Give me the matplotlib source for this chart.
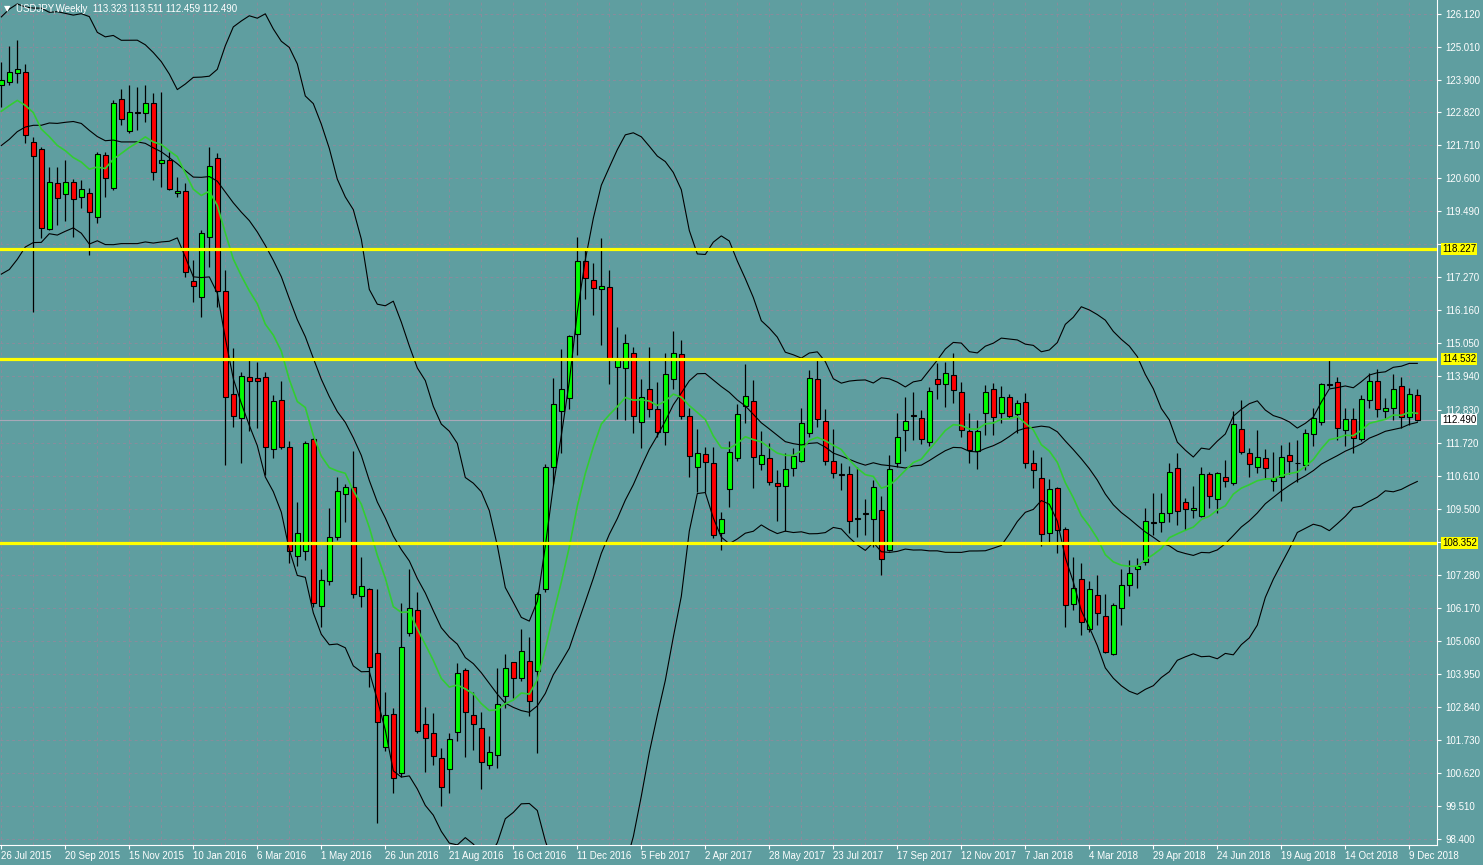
import matplotlib.pyplot as plt
import numpy as np
import pandas as pd
from matplotlib.transforms import blended_transform_factory, ScaledTranslation

# weekly USDJPY candles, 26 Jul 2015 .. 16 Dec 2018
opens = [123.73, 123.84, 124.14, 124.17, 121.82, 121.58, 118.90, 120.44, 120.07, 120.47,
         119.97, 120.10, 119.30, 121.38, 120.27, 123.26, 122.19, 122.83, 122.80, 123.13,
         121.11, 121.21, 120.10, 120.17, 117.15, 116.61, 118.63, 121.28, 116.81, 113.35,
         112.54, 113.92, 113.89, 113.92, 111.50, 113.15, 111.57, 107.91, 108.08, 111.84,
         106.23, 107.07, 108.55, 109.99, 110.21, 106.56, 106.80, 104.65, 101.49, 102.60,
         100.62, 105.32, 106.09, 102.26, 101.96, 101.12, 100.75, 101.99, 104.08, 102.56,
         102.13, 100.88, 101.22, 103.20, 104.34, 103.81, 104.38, 104.04, 106.80, 110.90,
         112.77, 113.21, 115.37, 117.82, 117.18, 116.87, 116.95, 114.26, 114.23, 114.73,
         112.41, 113.52, 112.85, 112.07, 113.86, 114.70, 112.61, 110.90, 111.34, 111.03,
         108.68, 110.16, 111.20, 112.95, 113.12, 111.00, 111.20, 110.36, 110.26, 110.87,
         111.10, 112.04, 113.86, 112.44, 111.10, 110.66, 110.66, 109.18, 109.32, 109.15,
         109.45, 108.11, 111.03, 112.14, 112.64, 112.54, 111.74, 113.86, 113.69, 113.99,
         113.42, 112.11, 111.44, 112.71, 113.52, 112.71, 113.25, 112.68, 113.08, 111.03,
         110.53, 108.68, 110.19, 108.82, 106.29, 107.13, 105.46, 106.60, 105.89, 104.61,
         106.16, 106.93, 107.47, 107.71, 109.05, 109.05, 109.35, 110.86, 109.72, 109.45,
         109.25, 110.66, 109.82, 110.56, 110.36, 112.17, 111.37, 110.90, 111.20, 110.43,
         110.56, 111.30, 111.03, 110.97, 112.01, 112.41, 113.69, 113.76, 112.14, 112.51,
         111.84, 113.15, 113.79, 112.78, 112.88, 113.62, 112.58, 113.323]
highs = [124.51, 125.05, 125.25, 124.45, 121.99, 121.65, 120.98, 120.98, 121.21, 120.57,
         120.54, 120.27, 121.48, 121.48, 123.23, 123.60, 123.73, 123.67, 123.73, 123.47,
         123.50, 121.48, 120.64, 120.44, 117.85, 118.86, 121.65, 121.45, 117.52, 114.90,
         114.10, 114.53, 114.43, 114.09, 113.32, 113.79, 111.77, 109.72, 111.77, 111.87,
         107.47, 109.52, 110.56, 110.34, 111.44, 107.87, 106.83, 106.80, 103.34, 102.80,
         106.33, 107.47, 106.70, 102.83, 102.63, 101.46, 101.96, 104.31, 104.14, 103.34,
         102.66, 101.86, 104.14, 104.61, 104.34, 105.46, 105.19, 106.70, 111.00, 113.89,
         114.86, 115.33, 118.63, 118.22, 117.75, 118.59, 117.52, 115.60, 115.37, 114.93,
         113.86, 114.93, 113.76, 114.73, 115.47, 115.17, 112.88, 112.17, 111.57, 111.57,
         109.39, 111.77, 113.02, 114.36, 113.82, 112.11, 111.70, 110.80, 111.37, 111.54,
         112.88, 114.16, 114.49, 112.85, 112.17, 111.03, 110.93, 110.90, 109.82, 110.46,
         109.92, 111.30, 112.71, 113.25, 113.42, 112.81, 113.59, 114.39, 114.43, 114.73,
         113.76, 112.71, 112.48, 113.66, 113.72, 113.62, 113.35, 113.15, 113.39, 111.47,
         111.24, 110.50, 110.23, 108.88, 107.87, 107.67, 107.07, 107.27, 106.63, 106.33,
         107.47, 107.77, 107.84, 109.52, 110.03, 110.03, 111.03, 111.37, 109.86, 110.26,
         110.90, 110.73, 110.73, 111.13, 112.78, 113.15, 111.54, 112.14, 111.50, 111.40,
         111.64, 111.74, 111.80, 112.17, 112.88, 113.72, 114.53, 113.92, 112.88, 112.88,
         113.32, 114.06, 114.19, 113.22, 114.02, 113.92, 113.55, 113.511]
lows = [122.99, 123.74, 123.80, 121.79, 116.11, 118.59, 118.85, 119.03, 119.16, 118.63,
        119.60, 118.02, 119.10, 119.97, 120.21, 122.39, 122.12, 122.22, 122.49, 120.54,
        120.31, 120.21, 119.97, 117.28, 116.44, 115.94, 117.62, 116.27, 110.97, 112.24,
        111.03, 112.11, 112.21, 110.63, 111.20, 111.50, 107.67, 107.57, 107.77, 106.19,
        105.52, 106.95, 108.45, 109.05, 106.50, 106.19, 103.51, 98.94, 101.36, 99.94,
        100.48, 105.22, 101.95, 100.65, 100.89, 99.51, 99.94, 101.69, 101.15, 101.39,
        100.08, 100.74, 100.79, 102.80, 103.13, 103.71, 102.53, 101.29, 106.70, 110.33,
        111.37, 112.85, 114.66, 116.54, 116.01, 114.99, 113.69, 112.51, 112.48, 112.04,
        111.54, 112.58, 111.91, 111.64, 113.52, 112.51, 110.56, 110.06, 110.06, 108.51,
        108.11, 109.55, 111.10, 112.38, 110.19, 110.80, 110.29, 109.08, 108.75, 110.60,
        111.07, 111.91, 112.24, 110.97, 110.53, 110.12, 108.68, 108.55, 108.62, 108.21,
        107.27, 108.08, 110.90, 111.44, 111.80, 111.67, 111.60, 113.18, 112.91, 113.05,
        111.91, 111.03, 110.83, 111.98, 111.98, 112.38, 112.54, 112.04, 110.86, 110.19,
        108.24, 108.38, 108.01, 105.52, 106.09, 105.25, 105.36, 105.59, 104.65, 104.58,
        105.59, 106.56, 106.83, 107.61, 108.61, 108.72, 109.05, 108.95, 108.78, 109.18,
        109.22, 109.52, 109.35, 110.23, 110.29, 111.33, 110.56, 110.70, 110.49, 110.09,
        109.76, 110.66, 110.40, 110.80, 111.60, 112.30, 113.55, 111.81, 111.60, 111.37,
        111.77, 112.88, 112.58, 112.54, 112.48, 112.21, 112.31, 112.459]
closes = [123.90, 124.17, 124.27, 122.05, 121.35, 118.93, 120.47, 119.94, 120.47, 119.90,
          120.24, 119.47, 121.42, 120.61, 123.13, 122.59, 122.83, 122.80, 123.13, 120.81,
          121.21, 120.24, 120.17, 117.45, 116.98, 118.76, 121.01, 116.81, 113.25, 112.61,
          113.96, 113.79, 113.79, 111.57, 113.12, 111.57, 108.08, 108.68, 111.70, 106.33,
          107.10, 108.55, 110.09, 110.21, 106.63, 106.90, 104.18, 102.33, 102.56, 100.45,
          104.85, 106.16, 102.02, 101.79, 101.19, 100.15, 101.76, 103.98, 102.67, 102.26,
          100.99, 101.32, 102.93, 104.14, 103.81, 104.72, 103.04, 106.64, 110.90, 113.02,
          113.52, 115.30, 117.82, 117.25, 116.91, 116.97, 114.53, 114.56, 115.07, 112.61,
          113.25, 112.85, 112.07, 114.02, 114.73, 112.61, 111.27, 111.37, 111.07, 108.62,
          109.15, 111.40, 112.68, 113.28, 111.23, 111.30, 110.39, 110.26, 110.83, 111.27,
          112.38, 113.89, 112.51, 111.10, 110.70, 110.63, 109.08, 109.15, 109.35, 110.23,
          107.81, 110.83, 111.91, 112.44, 112.61, 111.84, 113.45, 113.69, 114.06, 113.49,
          112.14, 111.47, 112.11, 113.42, 112.58, 113.25, 112.61, 113.05, 111.03, 110.80,
          108.65, 110.16, 108.78, 106.26, 106.83, 105.69, 106.80, 105.99, 104.68, 106.26,
          106.93, 107.34, 107.57, 109.08, 109.02, 109.35, 110.73, 109.42, 109.49, 109.52,
          110.66, 109.92, 110.70, 110.43, 112.34, 111.40, 111.00, 111.23, 110.87, 110.53,
          111.23, 111.10, 111.03, 112.04, 112.54, 113.69, 113.66, 112.21, 112.51, 111.87,
          113.18, 113.79, 112.85, 112.88, 113.52, 112.58, 113.35, 112.490]

# closes of the 19 weeks before the first bar (needed for the 20-week bands)
warmup_closes = [120.00, 119.10, 118.95, 120.20, 118.90, 118.95, 120.20, 119.75, 119.35, 121.55,
                 124.10, 125.60, 123.40, 122.70, 123.85, 122.80, 122.80, 124.10, 123.80]

date_labels = ["26 Jul 2015", "20 Sep 2015", "15 Nov 2015", "10 Jan 2016", "6 Mar 2016",
               "1 May 2016", "26 Jun 2016", "21 Aug 2016", "16 Oct 2016", "11 Dec 2016",
               "5 Feb 2017", "2 Apr 2017", "28 May 2017", "23 Jul 2017", "17 Sep 2017",
               "12 Nov 2017", "7 Jan 2018", "4 Mar 2018", "29 Apr 2018", "24 Jun 2018",
               "19 Aug 2018", "14 Oct 2018", "9 Dec 2018"]
price_labels = ["98.400", "99.510", "100.620", "101.730", "102.840", "103.950", "105.060",
                "106.170", "107.280", "108.390", "109.500", "110.610", "111.720", "112.830",
                "113.940", "115.050", "116.160", "117.270", "118.380", "119.490", "120.600",
                "121.710", "122.820", "123.900", "125.010", "126.120"]
hidden_labels = ["108.390", "118.380"]
levels = [118.227, 114.532, 108.352]
last_price = 112.490
title = "USDJPY,Weekly  113.323 113.511 112.459 112.490"

bg = "#5F9EA0"
plt.rcParams["font.family"] = ["Liberation Sans", "DejaVu Sans"]

fig = plt.figure(figsize=(14.83, 8.65), dpi=100, facecolor=bg)
ax = fig.add_axes([0, 20 / 865, 1437 / 1483, 845 / 865], facecolor=bg)

o = np.array(opens)
h = np.array(highs)
l = np.array(lows)
c = np.array(closes)
x = np.arange(len(c))
up = c >= o

# grid and bid line
for p in price_labels:
    ax.axhline(float(p), color="#8a8c9c", lw=0.7, ls=(0, (3, 3)), zorder=0.5)
for i in range(0, 180, 4):
    ax.axvline(i, color="#8a8c9c", lw=0.7, ls=(0, (3, 3)), zorder=0.5)
ax.axhline(last_price, color="#a8a8b8", lw=0.8, zorder=0.6)

# candles
ax.vlines(x, l, h, color="black", lw=0.9, zorder=2)
body_h = np.maximum(np.abs(c - o), 0.015)
ax.bar(x, body_h, bottom=np.minimum(o, c), width=0.62,
       color=np.where(up, "#00FF00", "#FF0000"), edgecolor="black", linewidth=0.8, zorder=3)

# indicators: Bollinger Bands (20, 2) and EMA 13
s = pd.Series(warmup_closes + closes)
k = len(warmup_closes)
mid = s.rolling(20).mean()
sd = s.rolling(20).std(ddof=0)
ema = s.ewm(span=13, adjust=False).mean()
for line in (mid + 2 * sd, mid, mid - 2 * sd):
    ax.plot(x, line.values[k:], color="black", lw=0.8, zorder=4)
ax.plot(x, ema.values[k:], color="#32CD32", lw=1.2, zorder=4)

for lv in levels:
    ax.axhline(lv, color="#FFFF00", lw=2.3, zorder=5)

ax.set_xlim(-0.1625, 179.46)
ax.set_ylim(98.197, 126.59)

# axes
ax.set_yticks([float(p) for p in price_labels])
ax.set_yticklabels(["" if p in hidden_labels else p for p in price_labels])
ax.yaxis.tick_right()
ax.set_xticks(range(0, len(c), 8))
ax.set_xticklabels(date_labels)
for lab in ax.get_xticklabels():
    lab.set_horizontalalignment("left")
ax.tick_params(axis="y", colors="white", labelsize=7, length=3, pad=3)
ax.tick_params(axis="x", colors="white", labelsize=7, length=3, pad=1)
for side in ("top", "left"):
    ax.spines[side].set_visible(False)
for side in ("right", "bottom"):
    ax.spines[side].set_color("white")
    ax.spines[side].set_linewidth(0.8)

trans = blended_transform_factory(ax.transAxes, ax.transData) + ScaledTranslation(5 / 100, 0, fig.dpi_scale_trans)
for lv in levels:
    ax.text(1.0, lv, f"{lv:.3f}", transform=trans, ha="left", va="center", fontsize=7,
            color="black", bbox=dict(boxstyle="square,pad=0.08", fc="#FFFF00", ec="none"),
            clip_on=False, zorder=6)
ax.text(1.0, last_price, f"{last_price:.3f}", transform=trans, ha="left", va="center", fontsize=7,
        color="black", bbox=dict(boxstyle="square,pad=0.08", fc="white", ec="none"),
        clip_on=False, zorder=6)

ax.text(0.003, 0.995, "▼", transform=ax.transAxes, ha="left", va="top", fontsize=6,
        color="white", family="DejaVu Sans", zorder=7)
ax.text(0.011, 0.995, title, transform=ax.transAxes, ha="left", va="top", fontsize=7,
        color="white", zorder=7)

fig.savefig("out.png", dpi=100, facecolor=bg)
